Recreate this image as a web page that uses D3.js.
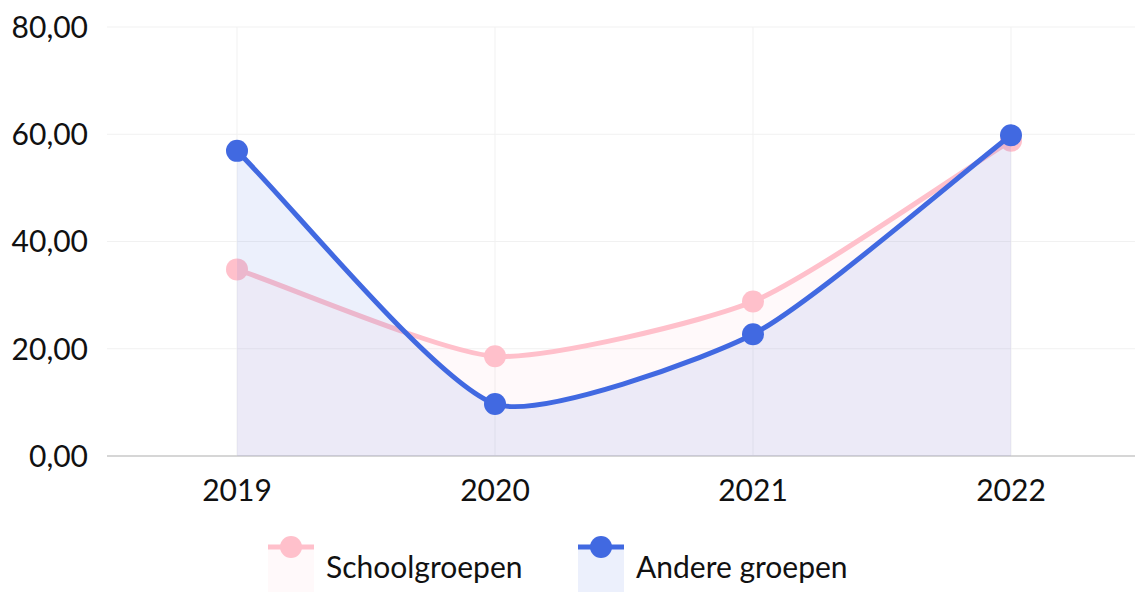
<!DOCTYPE html>
<html><head><meta charset="utf-8">
<script src="https://cdn.jsdelivr.net/npm/d3@7"></script>
<style>html,body{margin:0;padding:0;background:#fff;}svg{display:block;font-family:Lato,sans-serif;}</style>
</head><body>
<svg id="c" width="1135" height="592"></svg>
<script>
const years = ["2019","2020","2021","2022"];
const schoolgroepen = [34.8, 18.6, 28.8, 58.8];
const andereGroepen = [56.9, 9.7, 22.7, 59.8];
const yTicks = [0, 20, 40, 60, 80];
const seriesNames = ["Schoolgroepen", "Andere groepen"];
const lineColors = ["#FFC0CB", "#4169E1"];
const fillColors = ["rgba(255,192,203,0.1)", "rgba(65,105,225,0.1)"];

const svg = d3.select("#c");
const x = d3.scalePoint().domain(years).range([108, 1140]).padding(0.5);
const y = d3.scaleLinear().domain([0, 80]).range([456, 27]);
const fmt = v => d3.format(".2f")(v).replace(".", ",");

// Chart.js-like spline curve (bezier with tension)
function SplineCurve(ctx){ this._context = ctx; this._t = 0.2; }
SplineCurve.prototype = {
  areaStart(){ this._line = 0; },
  areaEnd(){ this._line = NaN; },
  lineStart(){ this._pts = []; },
  point(px, py){ this._pts.push([+px, +py]); },
  lineEnd(){
    const p = this._pts, n = p.length, c = this._context, t = this._t;
    if (n) {
      this._line ? c.lineTo(p[0][0], p[0][1]) : c.moveTo(p[0][0], p[0][1]);
      const cps = p.map((cur, i) => {
        const prev = p[Math.max(i-1,0)], next = p[Math.min(i+1,n-1)];
        const d01 = Math.hypot(cur[0]-prev[0], cur[1]-prev[1]);
        const d12 = Math.hypot(next[0]-cur[0], next[1]-cur[1]);
        let s01 = d01/(d01+d12), s12 = d12/(d01+d12);
        if (isNaN(s01)) s01 = 0; if (isNaN(s12)) s12 = 0;
        const fa = t*s01, fb = t*s12;
        return {
          p: [cur[0]-fa*(next[0]-prev[0]), cur[1]-fa*(next[1]-prev[1])],
          n: [cur[0]+fb*(next[0]-prev[0]), cur[1]+fb*(next[1]-prev[1])]
        };
      });
      for (let i = 0; i < n-1; i++) {
        c.bezierCurveTo(cps[i].n[0], cps[i].n[1], cps[i+1].p[0], cps[i+1].p[1], p[i+1][0], p[i+1][1]);
      }
    }
    if (this._line || (this._line !== 0 && n === 1)) c.closePath();
    this._line = 1 - this._line;
  }
};
const splineCurve = ctx => new SplineCurve(ctx);

// grid
const g = svg.append("g");
g.selectAll(".hg").data(yTicks).join("line")
  .attr("x1", 107).attr("x2", 1135).attr("y1", d => y(d)).attr("y2", d => y(d))
  .attr("stroke", "#f1f1f1").attr("stroke-width", 1);
g.selectAll(".vg").data(years).join("line")
  .attr("x1", d => x(d)).attr("x2", d => x(d)).attr("y1", y(80)).attr("y2", y(0))
  .attr("stroke", "#f1f1f1").attr("stroke-width", 1);

// y labels
svg.append("g").selectAll("text").data(yTicks).join("text")
  .attr("x", 88).attr("y", d => y(d)).attr("dy", "0.36em")
  .attr("text-anchor", "end").attr("font-size", 30).attr("fill", "#111")
  .text(fmt);

// x axis line
svg.append("line").attr("x1", 107).attr("x2", 1135).attr("y1", y(0)).attr("y2", y(0))
  .attr("stroke", "#d6d6d6").attr("stroke-width", 2);

// x labels
svg.append("g").selectAll("text").data(years).join("text")
  .attr("x", d => x(d)).attr("y", 501).attr("text-anchor", "middle")
  .attr("font-size", 30).attr("fill", "#111").text(d => d);

const datasets = [schoolgroepen, andereGroepen];
const area = d3.area().x((d,i) => x(years[i])).y0(y(0)).y1(d => y(d)).curve(splineCurve);
const line = d3.line().x((d,i) => x(years[i])).y(d => y(d)).curve(splineCurve);

datasets.forEach((vals, k) => {
  const dg = svg.append("g");
  dg.append("path").attr("d", area(vals)).attr("fill", fillColors[k]);
  dg.append("path").attr("d", line(vals)).attr("fill", "none")
    .attr("stroke", lineColors[k]).attr("stroke-width", 5).attr("stroke-linejoin", "round");
  dg.selectAll("circle").data(vals).join("circle")
    .attr("cx", (d,i) => x(years[i])).attr("cy", d => y(d)).attr("r", 11)
    .attr("fill", lineColors[k]);
});

// legend
const legX = [268, 578];
const lg = svg.append("g");
seriesNames.forEach((name, k) => {
  const lx = legX[k];
  lg.append("rect").attr("x", lx).attr("y", 547).attr("width", 46).attr("height", 45).attr("fill", fillColors[k]);
  lg.append("line").attr("x1", lx).attr("x2", lx+46).attr("y1", 547).attr("y2", 547)
    .attr("stroke", lineColors[k]).attr("stroke-width", 5);
  lg.append("circle").attr("cx", lx+23).attr("cy", 547).attr("r", 11).attr("fill", lineColors[k]);
  lg.append("text").attr("x", lx+58).attr("y", 578).attr("font-size", 30).attr("fill", "#111").text(name);
});
</script>
</body></html>
